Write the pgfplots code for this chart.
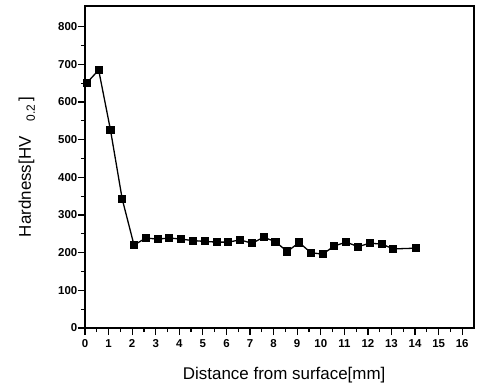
\documentclass[border=0pt]{standalone}
\usepackage{fontspec}
\setmainfont{Liberation Sans}
\usepackage{pgfplots}
\pgfplotsset{compat=1.18}
\begin{document}
\begin{tikzpicture}
\begin{axis}[
  scale only axis,
  width=389bp, height=322bp,
  xmin=0, xmax=16.5, ymin=0, ymax=855,
  xtick={0,1,...,16}, ytick={0,100,...,800},
  minor x tick num=1, minor y tick num=1,
  xtick pos=bottom, ytick pos=left,
  tick align=outside,
  major tick length=7bp, minor tick length=4bp,
  tick style={black, line width=1.2bp},
  axis line style={line width=1.2bp},
  /pgf/number format/assume math mode=true,
  ticklabel style={font=\bfseries\fontsize{11.5}{12}\selectfont},
  xticklabel style={inner sep=1bp, yshift=-3bp},
  yticklabel style={inner sep=0.5bp},
  xlabel={Distance from surface[mm]},
  ylabel={Hardness[HV\hspace{15bp}\raisebox{-4bp}{\fontsize{12}{12}\selectfont 0.2}\hspace{3bp}]},
  every axis x label/.style={at={(axis description cs:0.512,-0.122)}, anchor=north, inner sep=0pt, font=\fontsize{17}{18}\selectfont},
  every axis y label/.style={at={(axis description cs:-0.128,0.5)}, anchor=south, rotate=90, inner sep=0pt, font=\fontsize{17}{18}\selectfont},
  clip=false,
]
\addplot[black, line width=1.3bp, mark=square*, mark size=3.4bp, mark options={solid, fill=black}] coordinates {
(0.08,651) (0.58,685) (1.08,526) (1.58,342) (2.08,220) (2.58,239)
(3.08,236) (3.58,239) (4.08,236) (4.58,232) (5.08,230) (5.58,228)
(6.08,228) (6.58,234) (7.08,225) (7.58,241) (8.08,229) (8.58,203)
(9.08,227) (9.58,200) (10.08,196) (10.58,218) (11.08,228) (11.58,216)
(12.08,225) (12.58,223) (13.08,210) (14.05,212)
};
\end{axis}
\path ([xshift=-85bp,yshift=-63bp]current axis.south west) rectangle ([xshift=3bp,yshift=6bp]current axis.north east);
\end{tikzpicture}
\end{document}
